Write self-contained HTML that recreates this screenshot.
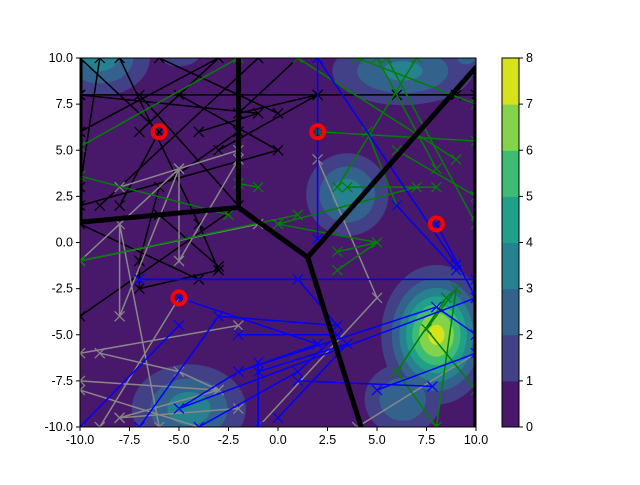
<!DOCTYPE html>
<html><head><meta charset="utf-8"><style>
body{margin:0;background:#fff;font-family:"Liberation Sans",sans-serif}
svg text{font-family:"Liberation Sans",sans-serif;font-size:12.5px;fill:#000}
</style></head><body>
<svg id="c" width="640" height="480" xmlns="http://www.w3.org/2000/svg">
<defs><clipPath id="clip"><rect x="80" y="58" width="396" height="369"/></clipPath></defs>
<g id="plot" clip-path="url(#clip)"></g>
<g id="axes"></g>
</svg>
<script>
const levelColors=["#48186a","#424086","#33638d","#26828e","#1fa088","#3fbc73","#84d44b","#d8e219"];
const colorbarTicks=[0,1,2,3,4,5,6,7,8];
const xTicks=[-10,-7.5,-5,-2.5,0,2.5,5,7.5,10];
const yTicks=[-10,-7.5,-5,-2.5,0,2.5,5,7.5,10];
// blobs: [cx, cy, sigmaX, sigmaY, peak]
const blobs=[[-9,10,1.6,1.3,3.5],[-5,10.3,1.0,0.7,1.8],[6.3,9.3,2.3,1.2,3.3],[9.5,10,1.0,0.8,2.2],[3.5,2.6,1.3,1.4,3.6],[-4.5,-9,1.8,1.5,3.6],[8,-5,1.4,1.9,7.3],[6.3,-8.5,1.3,1.3,3]];
const voronoi=[[[-10,10],[-10,1.1],[-2,1.9],[-2,10]],[[-2,1.9],[1.5,-0.8],[10,9.5],[10,-10]],[[1.5,-0.8],[4.2,-10]]];
const sites=[[-6,6],[2,6],[8,1],[-5,-3]];
const blueLines=[[[2,10],[2,0.2]],[[2,10],[9,-1.2]],[[6,2],[9,-1.5]],[[8,1],[10,-3]],[[-7,-2],[1,-2],[3,-4.5],[-3,-4],[-7,-10]],[[-5,-3],[2,-5.5],[-2,-7],[-5,-9],[10,-3]],[[-2,-5],[3,-5],[1,-7],[-4,-10]],[[-1,-7],[3.5,-5.5],[0,-9.5]],[[-5,-4.5],[-10,-10]],[[1,-7.5],[7.8,-7.8]],[[-2,-7],[8,-3.5],[10,-5]],[[5,-8],[10,-6]],[[-1,-10],[-1,-6.5]],[[-7,-2],[10,-2]]];
const greenLines=[[[-10,5.2],[-2,10]],[[-10,3.6],[-2.5,1.5]],[[-2,3.2],[-1,3]],[[0,1],[5,0]],[[2,6],[10,5.5]],[[5,10],[8,4]],[[7,10],[3,3]],[[4,10],[10,7.5]],[[1,10],[9,4.5]],[[6,5],[10,2.5]],[[3.5,3],[8,3]],[[0,1],[7,3]],[[1,1.5],[-10,-1]],[[5.5,10],[10,1]],[[8.5,-3],[6,-7],[8,-10],[9,-2.5],[7.5,-4.7],[10,-8]],[[3,-1.5],[5,0],[3,-0.5]],[[6,2],[4.5,6]]];
const blackLines=[[[-10,8],[10,8]],[[-10,10],[-6,6],[-8,2]],[[-8,10],[-4,1],[-3,-1.5]],[[-9,10],[-10,3]],[[-10,6],[-3,10],[-7,6]],[[-7,8],[-2,2],[-10,-4]],[[-10,8],[-1,7],[-4,6]],[[-6,10],[0,7]],[[-5,8],[0,5],[-10,2]],[[-1,10],[-9,2]],[[-2,6],[-6,3],[-7,-1]],[[-7,-1],[-7,-2.5],[-3,-1.5]],[[1,10],[-2,7],[2,8],[-3,5]],[[-3,-1.3],[-6,1.5]],[[6,8],[9,8]],[[-10,1],[-4,-2]]];
const grayLines=[[[-8,3],[-2,5],[-5,4],[-8,-4],[-8,1],[-6,-10]],[[-10,-1],[-5,4],[-5,-1],[-2,4.5]],[[-9,-6],[-5,-7],[-3,-8],[-10,-7.5]],[[-10,-8],[-4,-10]],[[2,4.5],[5,-3],[-1,-10]],[[-3,-8],[-8,-9.5]],[[4,-10],[10,-6]],[[-8,-9.5],[-2,-9]],[[-5,-3],[-9,-10]],[[-10,-1],[-1,1]],[[-10,-6],[-2,-4.5]]];

const X0=80,X1=476,Y0=58,Y1=427;
const px=x=>X0+(x+10)/20*(X1-X0);
const py=y=>Y1-(y+10)/20*(Y1-Y0);
const sx=(X1-X0)/20, sy=(Y1-Y0)/20;
const NS="http://www.w3.org/2000/svg";
const plot=document.getElementById('plot'), axes=document.getElementById('axes');
function mk(t,a,p){const e=document.createElementNS(NS,t);for(const k in a)e.setAttribute(k,a[k]);(p||plot).appendChild(e);return e;}

const bg=mk('rect',{x:X0,y:Y0,width:X1-X0,height:Y1-Y0,fill:levelColors[0]});


const bl=mk('g',{});


for(let lv=1;lv<8;lv++){
  blobs.forEach(b=>{
    if(b[4]<=lv) return;
    const f=Math.sqrt(2*Math.log(b[4]/lv));
    const e=mk('ellipse',{cx:px(b[0]),cy:py(b[1]),rx:b[2]*sx*f,ry:b[3]*sy*f,fill:levelColors[lv]},bl);
    
    
  });
}
function drawSeries(list,color,name){
  const g=mk('g',{});
  
  
  list.forEach(l=>{
    const p=mk('polyline',{points:l.map(q=>px(q[0])+','+py(q[1])).join(' '),fill:'none',stroke:color,'stroke-width':1.5},g);
    
    
    l.forEach(q=>{
      const x=px(q[0]),y=py(q[1]);
      const m=mk('path',{d:`M${x-5},${y-5}L${x+5},${y+5}M${x-5},${y+5}L${x+5},${y-5}`,stroke:color,'stroke-width':1.2},g);
      
      
    });
  });
}
drawSeries(blackLines,'#000','black-series');
drawSeries(grayLines,'#888','gray-series');
drawSeries(greenLines,'#008000','green-series');
drawSeries(blueLines,'#0000ff','blue-series');
voronoi.forEach(l=>{
  const p=mk('polyline',{points:l.map(q=>px(q[0])+','+py(q[1])).join(' '),fill:'none',stroke:'#000','stroke-width':5,'stroke-linejoin':'round'});
  
  
});
sites.forEach(s=>{
  const c=mk('circle',{cx:px(s[0]),cy:py(s[1]),r:6.5,fill:'none',stroke:'#ff0000','stroke-width':4});
  
  
});
const fr=mk('rect',{x:X0,y:Y0,width:X1-X0,height:Y1-Y0,fill:'none',stroke:'#000','stroke-width':1},axes);


xTicks.forEach(t=>{
  const x=px(t);
  mk('line',{x1:x,x2:x,y1:Y1,y2:Y1+4,stroke:'#000'},axes);
  const tx=mk('text',{x:x,y:Y1+17,'text-anchor':'middle'},axes);tx.textContent=t.toFixed(1);
  
  
});
yTicks.forEach(t=>{
  const y=py(t);
  mk('line',{x1:X0-4,x2:X0,y1:y,y2:y,stroke:'#000'},axes);
  const tx=mk('text',{x:X0-7,y:y+4,'text-anchor':'end'},axes);tx.textContent=t.toFixed(1);
  
  
});
const CX=502,CW=17;
const cb=mk('g',{},axes);


const ch=(Y1-Y0)/8;
levelColors.forEach((c,i)=>{mk('rect',{x:CX,y:Y1-(i+1)*ch,width:CW,height:ch+0.5,fill:c},cb);});
mk('rect',{x:CX,y:Y0,width:CW,height:Y1-Y0,fill:'none',stroke:'#000'},cb);
colorbarTicks.forEach(t=>{
  const y=Y1-t*ch;
  mk('line',{x1:CX+CW,x2:CX+CW+4,y1:y,y2:y,stroke:'#000'},cb);
  const tx=mk('text',{x:CX+CW+7,y:y+4},cb);tx.textContent=t;
  
  
});
</script>
</body></html>
